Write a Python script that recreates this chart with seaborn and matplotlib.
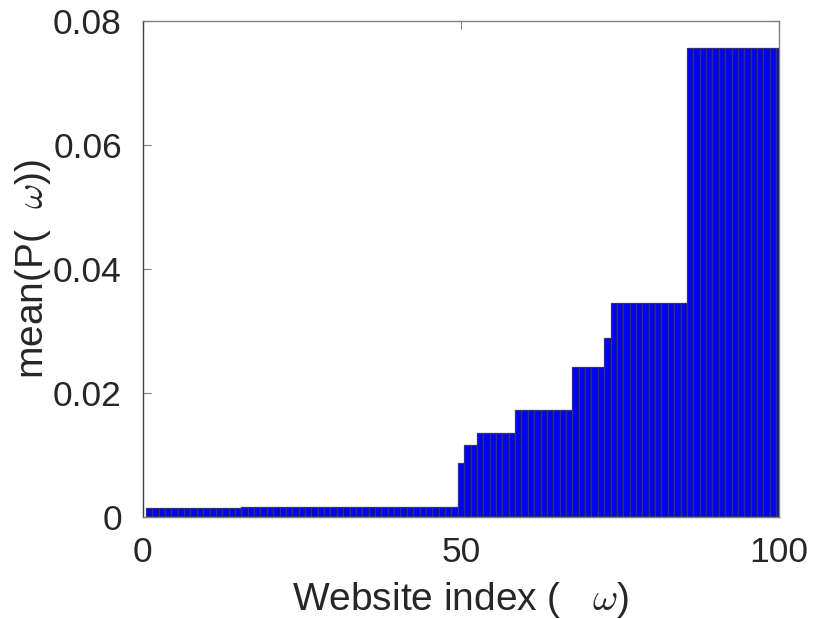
import numpy as np
import pandas as pd
import matplotlib
matplotlib.use('Agg')
import matplotlib.pyplot as plt
import seaborn as sns

# step levels of mean(P(w)) and how many websites sit on each level
levels = [0.00135, 0.00156, 0.0087, 0.01156, 0.0135, 0.01726, 0.0242, 0.0288, 0.03457, 0.0757]
counts = [15, 34, 1, 2, 6, 9, 5, 1, 12, 15]

site_idx = np.arange(1, 101)
mean_p = np.repeat(levels, counts)
df = pd.DataFrame({'site': site_idx, 'mean_p': mean_p})

sns.set_style('white')
plt.rcParams['font.family'] = ['Liberation Sans', 'DejaVu Sans']
plt.rcParams['mathtext.fontset'] = 'cm'

fig = plt.figure(figsize=(8.14, 6.19), dpi=100)
ax = fig.add_axes([0.1753, 0.1653, 0.782, 0.8007])

sns.barplot(data=df, x='site', y='mean_p', native_scale=True, width=1,
            color='#0000ff', saturation=1, edgecolor='#3a3a3a', linewidth=0.9,
            errorbar=None, ax=ax)

ax.set_xlim(0, 100)
ax.set_ylim(0, 0.08)
ax.set_xticks([0, 50, 100])
ax.set_yticks([0, 0.02, 0.04, 0.06, 0.08])
ax.set_yticklabels(['0', '0.02', '0.04', '0.06', '0.08'])
ax.tick_params(direction='in', length=6, width=0.8, colors='#808080',
               labelcolor='#262626', labelsize=25.5, top=True, right=True,
               bottom=True, left=True)
ax.tick_params(axis='x', pad=14)
ax.tick_params(axis='y', pad=15)
for sp in ax.spines.values():
    sp.set_visible(True)
    sp.set_edgecolor('#808080')
    sp.set_linewidth(1.0)
ax.spines['left'].set_edgecolor('#404040')

ax.set_xlabel('Website index (   $\\omega$)', fontsize=28, color='#262626', labelpad=8)
ax.set_ylabel('mean(P(  $\\omega$))', fontsize=28, color='#262626', labelpad=0)

plt.savefig('out.png', dpi=100, facecolor='white')
